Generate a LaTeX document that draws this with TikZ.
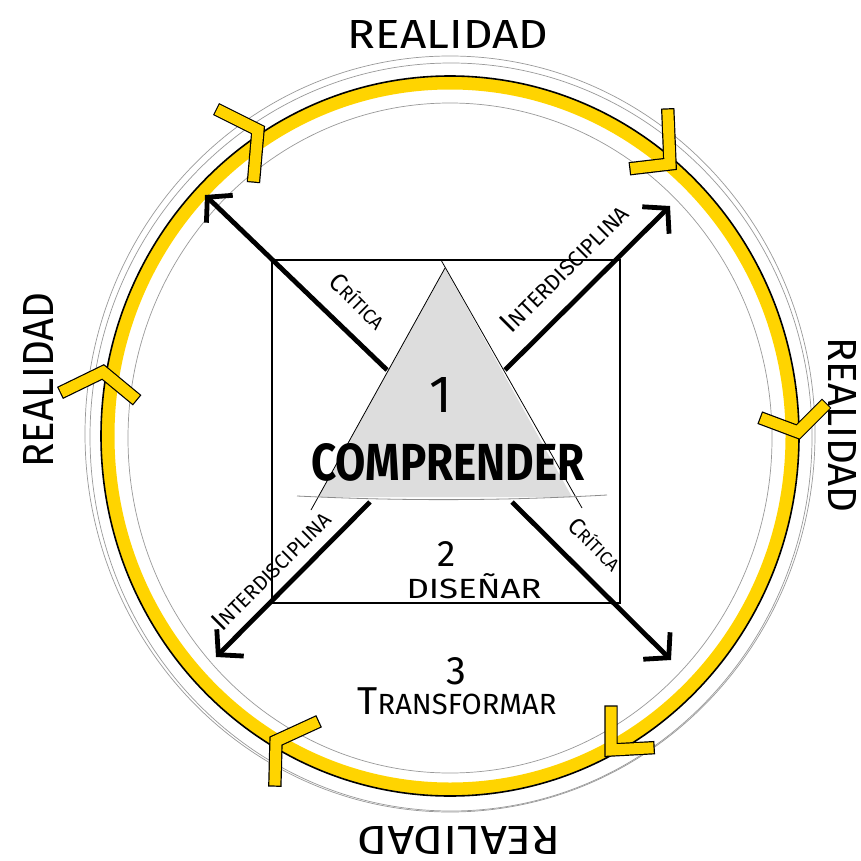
\documentclass[tikz,border=0pt]{standalone}
\usepackage{fontspec}
\setmainfont{Fira Sans}
\usepackage{graphicx}
\usetikzlibrary{arrows.meta}
\definecolor{ringyellow}{RGB}{255,212,0}
\definecolor{trigray}{RGB}{221,221,221}
\newcommand\scapt[4]{{\fontsize{#1}{#1}\selectfont #2}{\fontsize{#3}{#3}\selectfont #4}}
\tikzset{
  graycirc/.style={draw=black!40, line width=0.7pt},
  chev/.style={draw=black, line width=1.2pt, double=ringyellow, double distance=11pt, line cap=rect, line join=miter},
  diag/.style={line width=4.8pt, -{Straight Barb[length=17pt,width=38pt]}},
  lbl/.style={inner sep=0pt, outer sep=0pt},
}
\begin{document}
\begin{tikzpicture}[x=1pt,y=-1pt]
\useasboundingbox (0,0) rectangle (861,861);
\fill[white] (0,0) rectangle (861,861);
% gray guide circles
\draw[graycirc] (450,434) ellipse [x radius=365, y radius=378];
\draw[graycirc] (451,437) ellipse [x radius=361, y radius=374];
\draw[graycirc] (450,438) ellipse [x radius=322, y radius=335];
% yellow ring
\draw[ringyellow, line width=13pt] (450,436) ellipse [x radius=342, y radius=353];
\draw[black, line width=1.6pt] (450,436) ellipse [x radius=349, y radius=360];
% chevrons
\draw[chev] (222,112) -- (258,130) -- (254,176);
\draw[chev] (668,115) -- (670,164) -- (636,168);
\draw[chev] (766,420) -- (798,432) -- (822,408);
\draw[chev] (611,712) -- (611,750) -- (648,748);
\draw[chev] (275,780) -- (276,741) -- (313,724);
\draw[chev] (66,390) -- (103,372) -- (132,396);
% square
\draw[line width=1.5pt] (272,260) rectangle (620,603);
% triangle
\fill[trigray] (445,268) -- (318,497) -- (572,497) -- cycle;
\draw[line width=0.8pt] (445,268) -- (311,510);
\draw[line width=0.8pt] (441,260) -- (582,508);
\draw[black!45, line width=0.8pt] (297,496) .. controls (400,501) and (500,501) .. (607,495);
% diagonal arrows
\coordinate (ulS) at (387,370); \coordinate (ulE) at (205,195);
\coordinate (urS) at (505,370); \coordinate (urE) at (670,206);
\coordinate (llS) at (370,502); \coordinate (llE) at (216,657);
\coordinate (lrS) at (512,502); \coordinate (lrE) at (671,660);
\draw[diag] (ulS) -- (ulE);
\draw[diag] (urS) -- (urE);
\draw[diag] (llS) -- (llE);
\draw[diag] (lrS) -- (lrE);
% REALIDAD labels
\node[lbl] (rtop) at (448,34) {\resizebox{200pt}{28pt}{REALIDAD}};
\node[lbl, rotate=90] (rleft) at (38,380) {\resizebox{175pt}{30pt}{REALIDAD}};
\node[lbl, rotate=-90] (rright) at (842,425) {\resizebox{175pt}{28pt}{REALIDAD}};
\node[lbl, rotate=180] (rbot) at (459,840) {\resizebox{202pt}{28pt}{REALIDAD}};
% diagonal labels
\node[lbl, rotate=-45] (crit1) at (358,301) {\resizebox{68pt}{!}{\scapt{20}{C}{15}{RÍTICA}}};
\node[lbl, rotate=45] (inter1) at (564,268) {\resizebox{168pt}{!}{\scapt{20}{I}{15}{NTERDISCIPLINA}}};
\node[lbl, rotate=45] (inter2) at (271,570) {\resizebox{157pt}{!}{\scapt{20}{I}{15}{NTERDISCIPLINA}}};
\node[lbl, rotate=-45] (crit2) at (595,544) {\resizebox{64pt}{!}{\scapt{20}{C}{15}{RÍTICA}}};
% center texts
\node[lbl] (n1) at (441,395) {\resizebox{!}{35pt}{1}};
\node[lbl] (comp) at (448,462) {\resizebox{273pt}{37pt}{\bfseries COMPRENDER}};
\node[lbl] (n2) at (447,554) {\resizebox{!}{25pt}{2}};
\node[lbl] (dis) at (474,586) {\resizebox{135pt}{25pt}{DISEÑAR}};
\node[lbl] (n3) at (456,671) {\resizebox{!}{27pt}{3}};
\node[lbl] (trans) at (457,701) {\resizebox{199pt}{!}{\scapt{20}{T}{15}{RANSFORMAR}}};
\end{tikzpicture}
\end{document}
